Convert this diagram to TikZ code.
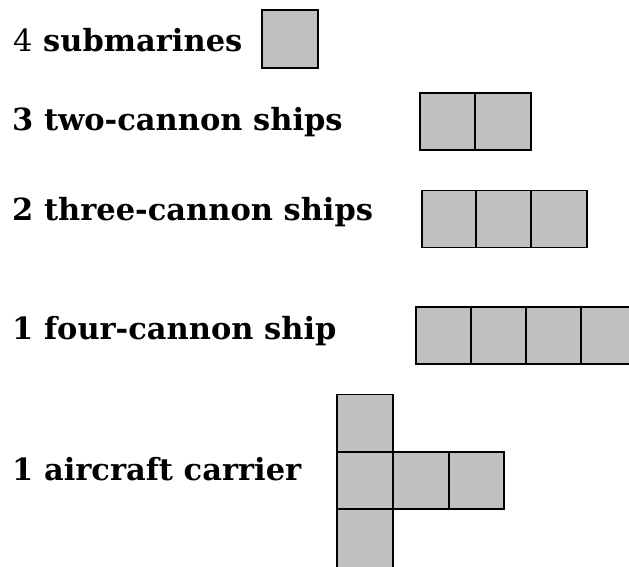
\documentclass[tikz,border=0pt]{standalone}
\usepackage{fontspec}
\setmainfont{DejaVu Serif}
\definecolor{cellgray}{RGB}{192,192,192}
\begin{document}
\begin{tikzpicture}[x=1pt,y=-1pt,
  cell/.style={draw=black, fill=cellgray, line width=1.6pt, inner sep=0pt, minimum width=55.5pt, minimum height=57pt},
  lbl/.style={anchor=base west, inner sep=0pt, font=\fontsize{30.5}{34}\selectfont\bfseries}]
\useasboundingbox (0,0) rectangle (629,566);
\clip (0,0) rectangle (629,566);
% labels
\node[lbl] (t1) at (13,51) {{\mdseries 4} submarines};
\node[lbl] (t2) at (12,130) {3 two-cannon ships};
\node[lbl] (t3) at (12,220) {2 three-cannon ships};
\node[lbl] (t4) at (12,339) {1 four-cannon ship};
\node[lbl] (t5) at (12,480) {1 aircraft carrier};
% submarine
\node[cell, minimum width=56pt, minimum height=58pt] (s1) at (290,39) {};
% two-cannon ship
\node[cell] (a1) at (447.5,121.5) {};
\node[cell] (a2) at (503,121.5) {};
% three-cannon ship
\node[cell] (b1) at (449.5,219) {};
\node[cell] (b2) at (504,219) {};
\node[cell] (b3) at (559,219) {};
% four-cannon ship
\node[cell] (c1) at (444,335.5) {};
\node[cell] (c2) at (498.5,335.5) {};
\node[cell] (c3) at (553.5,335.5) {};
\node[cell] (c4) at (608.5,335.5) {};
% aircraft carrier
\node[cell] (d1) at (365,423) {};
\node[cell] (d2) at (365,480.5) {};
\node[cell, minimum height=70pt] (d3) at (365,544) {};
\node[cell] (d4) at (421,480.5) {};
\node[cell] (d5) at (476.5,480.5) {};
\end{tikzpicture}
\end{document}
